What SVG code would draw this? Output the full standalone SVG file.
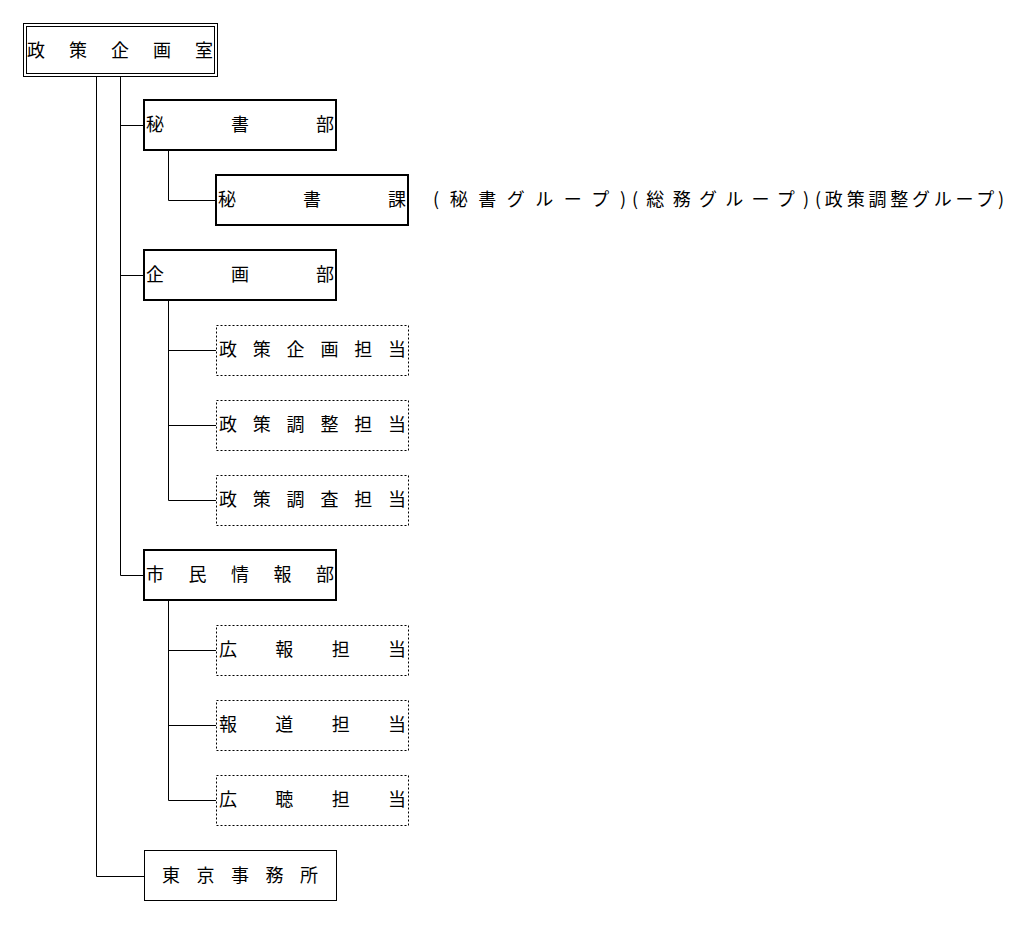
<svg xmlns="http://www.w3.org/2000/svg" width="1033" height="926" viewBox="0 0 1033 926">
<style>
text{font-family:"Noto Sans CJK JP","Noto Sans",sans-serif;font-size:18px;fill:#000}
.b{fill:#fff;stroke:#000;stroke-width:1}
.t{fill:#fff;stroke:#000;stroke-width:2}
.d{fill:#fff;stroke:#000;stroke-width:1;stroke-dasharray:2,2}
.c{stroke:#000;stroke-width:1;fill:none}
</style>
<rect width="1033" height="926" fill="#fff"/>
<g id="connectors" class="c">
<path d="M96.5 76V876.5H144M120.5 76V575.5H144M120.5 125.5H144M120.5 275.5H144"/>
<path d="M168.5 150V200.5H216"/>
<path d="M168.5 300V500.5H216M168.5 350.5H216M168.5 425.5H216"/>
<path d="M168.5 600V800.5H216M168.5 650.5H216M168.5 725.5H216"/>
</g>
<g id="n0"><rect class="b" x="23.5" y="23.5" width="194" height="53"/><rect class="b" x="26.5" y="26.5" width="188" height="47"/><text x="27" y="57" textLength="186" lengthAdjust="spacing">政策企画室</text></g>
<g id="n1"><rect class="t" x="144" y="100" width="192" height="50"/><text x="146" y="131" textLength="188" lengthAdjust="spacing">秘書部</text></g>
<g id="n2"><rect class="t" x="216" y="175" width="192" height="50"/><text x="218" y="206" textLength="188" lengthAdjust="spacing">秘書課</text></g>
<g id="n2note"><text x="433" y="206" textLength="193" lengthAdjust="spacing">(秘書グループ)</text><text x="632" y="206" textLength="177" lengthAdjust="spacing">(総務グループ)</text><text x="815" y="206" textLength="189" lengthAdjust="spacing">(政策調整グループ)</text></g>
<g id="n3"><rect class="t" x="144" y="250" width="192" height="50"/><text x="146" y="281" textLength="188" lengthAdjust="spacing">企画部</text></g>
<g id="n4"><rect class="d" x="216.5" y="325.5" width="192" height="50"/><text x="219" y="356" textLength="187" lengthAdjust="spacing">政策企画担当</text></g>
<g id="n5"><rect class="d" x="216.5" y="400.5" width="192" height="50"/><text x="219" y="431" textLength="187" lengthAdjust="spacing">政策調整担当</text></g>
<g id="n6"><rect class="d" x="216.5" y="475.5" width="192" height="50"/><text x="219" y="506" textLength="187" lengthAdjust="spacing">政策調査担当</text></g>
<g id="n7"><rect class="t" x="144" y="550" width="192" height="50"/><text x="146" y="581" textLength="188" lengthAdjust="spacing">市民情報部</text></g>
<g id="n8"><rect class="d" x="216.5" y="625.5" width="192" height="50"/><text x="219" y="656" textLength="187" lengthAdjust="spacing">広報担当</text></g>
<g id="n9"><rect class="d" x="216.5" y="700.5" width="192" height="50"/><text x="219" y="731" textLength="187" lengthAdjust="spacing">報道担当</text></g>
<g id="n10"><rect class="d" x="216.5" y="775.5" width="192" height="50"/><text x="219" y="806" textLength="187" lengthAdjust="spacing">広聴担当</text></g>
<g id="n11"><rect class="b" x="144.5" y="850.5" width="192" height="50"/><text x="162" y="882" textLength="156" lengthAdjust="spacing">東京事務所</text></g>
</svg>
